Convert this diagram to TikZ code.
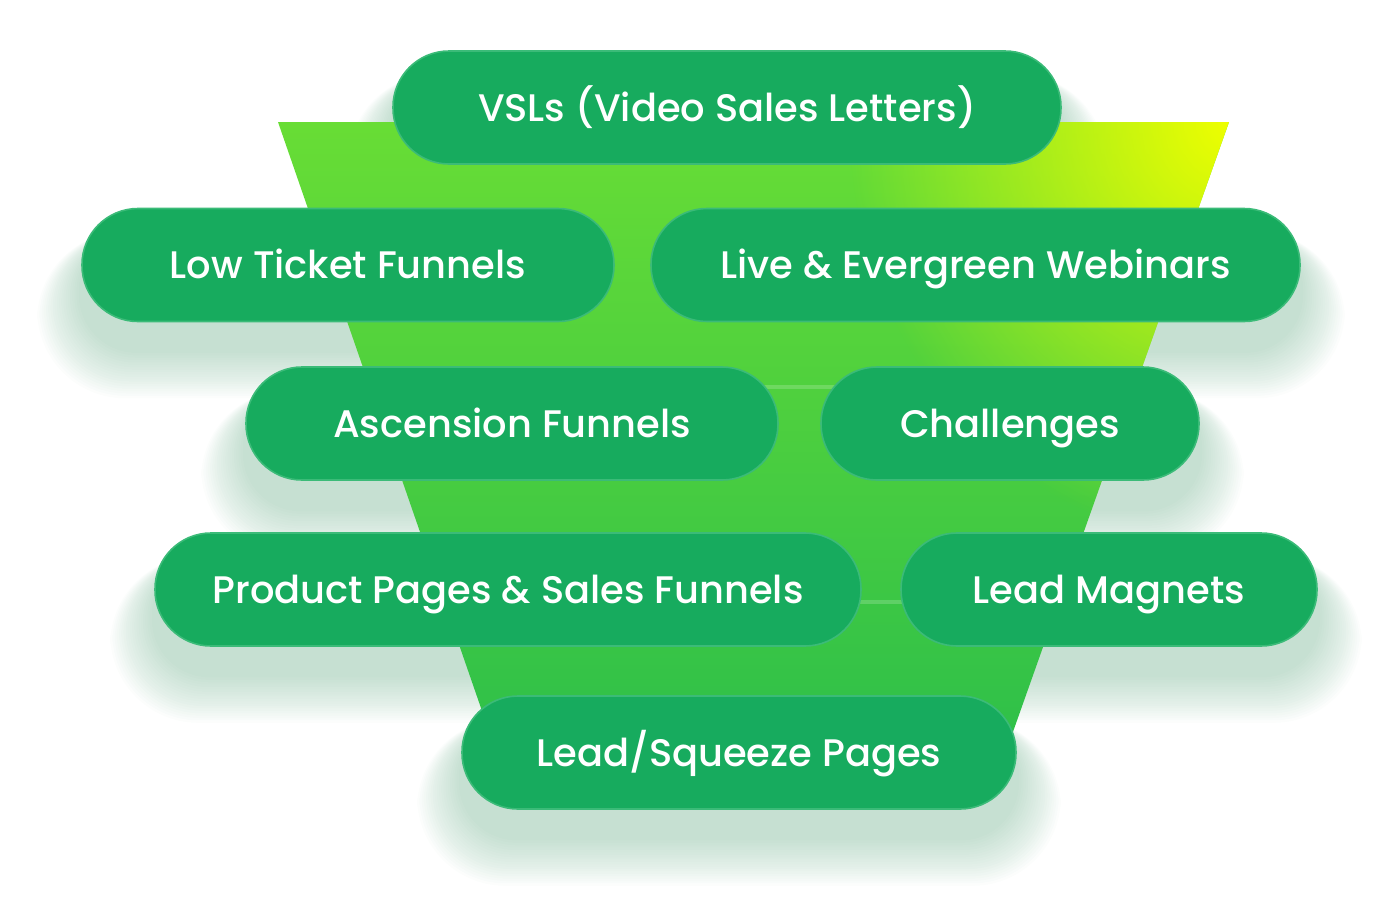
\documentclass[tikz,border=0pt]{standalone}
\usepackage{fontspec}
\newfontfamily\pillfont{Poppins}[UprightFont={* Medium}]
\usetikzlibrary{fadings}
\definecolor{pillgreen}{HTML}{17AB5E}
\definecolor{pillrim}{HTML}{3BBB78}
\definecolor{funneltop}{HTML}{68DD35}
\definecolor{funnelbot}{HTML}{2DBF4A}
\definecolor{glowyellow}{HTML}{EEFF00}
\definecolor{shadowgreen}{HTML}{2A8A55}
\tikzfading[name=glowfade, inner color=transparent!0, outer color=transparent!100]
\pgfdeclarelayer{shadowlayer}
\pgfdeclarelayer{funnellayer}
\pgfsetlayers{shadowlayer,funnellayer,main}
\tikzset{
	pill/.style={draw=pillrim, line width=0.8pt, fill=pillgreen, text=white,
		rounded corners=28pt, minimum height=56.5pt, inner sep=0pt,
		text height=13.8pt, text depth=0pt,
		font=\pillfont\fontsize{19.2}{24}\selectfont},
	bandline/.style={white, opacity=0.18, line width=2pt}
}
\newcommand\pillshadow[1]{%
	\foreach \k in {1,...,20}
	\fill[shadowgreen, opacity=0.016, rounded corners={28pt+\k*0.8pt}]
	([xshift=-\k*1.1pt, yshift=-14pt-\k*1.2pt]#1.south west) rectangle
	([xshift=\k*1.1pt, yshift=-12pt]#1.north east);}
\begin{document}
\begin{tikzpicture}[x=0.5pt, y=-0.5pt]
		\useasboundingbox (0,0) rectangle (1398,922);
		\node[pill, minimum width=334pt] (vsl) at (727,107.5) {VSLs (Video Sales Letters)};
		\node[pill, minimum width=266pt] (lowticket) at (348,265) {Low Ticket Funnels};
		\node[pill, minimum width=324.5pt] (webinars) at (975.5,265) {Live \& Evergreen Webinars};
		\node[pill, minimum width=266pt] (ascension) at (512,423.5) {Ascension Funnels};
		\node[pill, minimum width=189pt] (challenges) at (1010,423.5) {Challenges};
		\node[pill, minimum width=353pt] (product) at (508,589.5) {Product Pages \& Sales Funnels};
		\node[pill, minimum width=208pt] (magnets) at (1109,589.5) {Lead Magnets};
		\node[pill, minimum width=277pt] (squeeze) at (739,752.5) {Lead/Squeeze Pages};
		\begin{pgfonlayer}{funnellayer}
			\begin{scope}
				\clip (278,122) -- (1229,122) -- (1003,760) -- (499,760) -- cycle;
				\shade[top color=funneltop, bottom color=funnelbot] (278,122) rectangle (1229,760);
				\fill[glowyellow, path fading=glowfade] (1229,122) ellipse (380 and 420);
				\draw[bandline] (278,387) -- (1229,387);
				\draw[bandline] (278,602) -- (1229,602);
			\end{scope}
		\end{pgfonlayer}
		\begin{pgfonlayer}{shadowlayer}
			\foreach \n in {vsl,lowticket,webinars,ascension,challenges,product,magnets,squeeze}
			{\pillshadow{\n}}
		\end{pgfonlayer}
\end{tikzpicture}
\end{document}
